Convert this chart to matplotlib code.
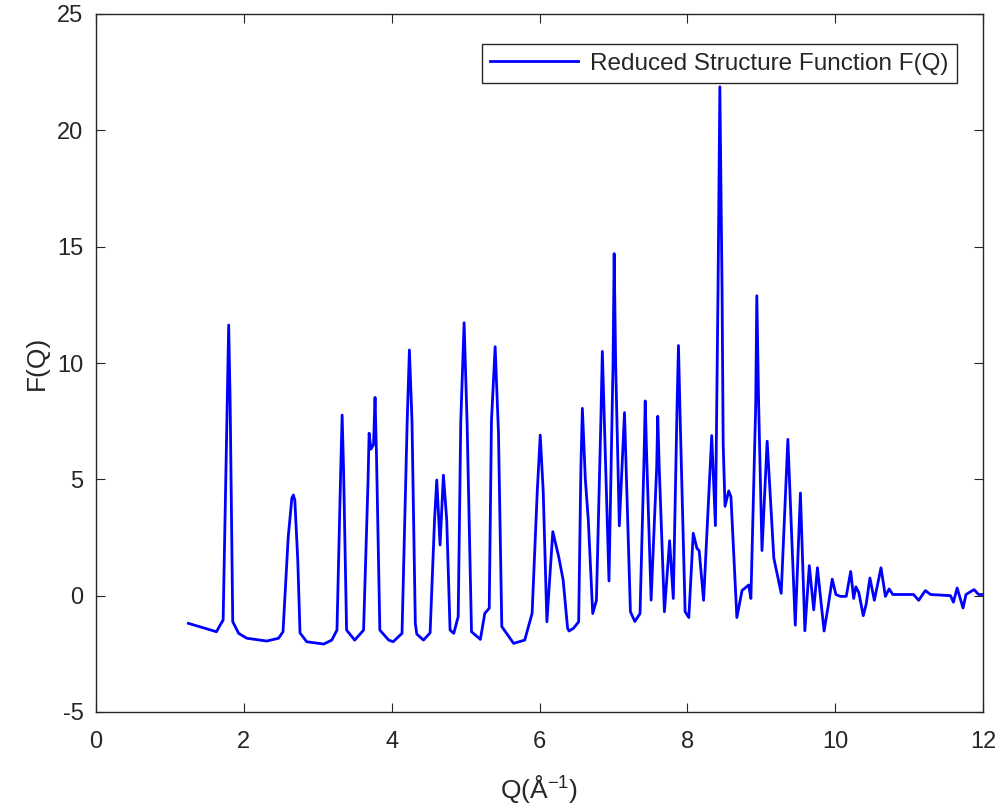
import matplotlib
matplotlib.use('Agg')
import matplotlib.pyplot as plt

plt.rcParams['font.family'] = ['Liberation Sans', 'DejaVu Sans']
plt.rcParams['mathtext.fontset'] = 'custom'
plt.rcParams['mathtext.rm'] = 'Liberation Sans'
plt.rcParams['mathtext.it'] = 'Liberation Sans'
plt.rcParams['axes.unicode_minus'] = False

# values (Q in 1/A, F(Q))
q = [1.25, 1.63, 1.68, 1.72, 1.775, 1.795, 1.815, 1.85, 1.93, 2.04, 2.31, 2.47,
     2.53, 2.60, 2.65, 2.67, 2.69, 2.73, 2.76, 2.85, 3.08, 3.19,
     3.26, 3.31, 3.33, 3.35, 3.39, 3.50, 3.62, 3.68, 3.695, 3.72, 3.755, 3.775, 3.795,
     3.84, 3.96, 4.02, 4.14, 4.21, 4.24, 4.275, 4.32, 4.34, 4.43,
     4.52, 4.58, 4.61, 4.655, 4.70, 4.745, 4.79, 4.84,
     4.90, 4.935, 4.98, 5.02, 5.08, 5.20, 5.26,
     5.32, 5.35, 5.40, 5.445, 5.49, 5.65, 5.80,
     5.90, 5.97, 6.01, 6.05, 6.10, 6.18, 6.26, 6.32, 6.38, 6.40, 6.46, 6.53,
     6.56, 6.58, 6.62, 6.66, 6.72, 6.77, 6.83, 6.85, 6.94, 6.995, 7.01, 7.03, 7.08, 7.15,
     7.23, 7.29, 7.36, 7.415, 7.43, 7.45, 7.51, 7.585, 7.60, 7.62, 7.69, 7.76, 7.81,
     7.86, 7.88, 7.90, 7.97, 8.02, 8.08, 8.13, 8.16, 8.22, 8.33, 8.38,
     8.415, 8.44, 8.47, 8.485, 8.51, 8.56, 8.59,
     8.67, 8.74, 8.83, 8.86, 8.925, 8.94, 8.965, 9.01, 9.08, 9.17, 9.27, 9.36,
     9.46, 9.53, 9.59, 9.65, 9.71, 9.76, 9.85, 9.91, 9.96, 10.01, 10.07,
     10.15, 10.21, 10.25, 10.28, 10.32, 10.38, 10.42, 10.47, 10.53, 10.62, 10.68,
     10.73, 10.78, 11.06, 11.13, 11.22, 11.29, 11.56, 11.60, 11.65, 11.73, 11.77,
     11.81, 11.88, 11.94, 12.0]
fq = [-1.19, -1.55, -1.26, -1.05, 8.3, 11.63, 8.3, -1.12, -1.62, -1.83, -1.95, -1.83,
      -1.55, 2.5, 4.2, 4.33, 4.1, 1.5, -1.6, -1.98, -2.08, -1.91,
      -1.48, 5.3, 7.76, 5.3, -1.48, -1.91, -1.48, 4.9, 6.98, 6.3, 6.5, 8.52, 6.0,
      -1.48, -1.91, -1.98, -1.62, 7.5, 10.56, 7.5, -1.2, -1.65, -1.91,
      -1.6, 3.25, 4.97, 2.18, 5.18, 3.25, -1.48, -1.62,
      -0.9, 7.5, 11.73, 7.5, -1.55, -1.88, -0.76,
      -0.54, 7.5, 10.70, 7.0, -1.33, -2.05, -1.91,
      -0.76, 4.5, 6.9, 4.5, -1.12, 2.75, 1.67, 0.67, -1.4, -1.52, -1.4, -1.12,
      5.5, 8.05, 5.0, 3.26, -0.77, -0.2, 7.5, 10.5, 0.63, 10.0, 14.7, 10.0, 3.0, 7.87,
      -0.69, -1.11, -0.77, 6.0, 8.37, 6.0, -0.19, 5.5, 7.71, 5.5, -0.69, 2.36, -0.12,
      8.0, 10.75, 8.0, -0.69, -0.94, 2.68, 2.03, 1.94, -0.2, 6.88, 3.01,
      13.1, 21.87, 13.1, 6.5, 3.84, 4.50, 4.25,
      -0.94, 0.22, 0.46, -0.12, 8.2, 12.89, 8.2, 1.94, 6.64, 1.62, 0.1, 6.72,
      -1.27, 4.41, -1.51, 1.29, -0.61, 1.20, -1.52, -0.36, 0.71, 0.05, -0.03,
      -0.03, 1.04, -0.12, 0.38, 0.13, -0.86, -0.36, 0.76, -0.20, 1.20, -0.03,
      0.29, 0.05, 0.05, -0.20, 0.22, 0.05, 0.0, -0.28, 0.33, -0.53, 0.05,
      0.13, 0.26, 0.05, 0.05]

xticks = [0, 2, 4, 6, 8, 10, 12]
yticks = [-5, 0, 5, 10, 15, 20, 25]

axcol = (0.15, 0.15, 0.15)

fig = plt.figure(figsize=(10.02, 8.07), dpi=100)
ax = fig.add_axes([96/1002, 95/807, 887/1002, 698/807])

ax.plot(q, fq, color=(0, 0, 1), lw=2.0, label='Reduced Structure Function F(Q)')

ax.set_xlim(0, 12)
ax.set_ylim(-5, 25)
ax.set_xticks(xticks)
ax.set_yticks(yticks)
ax.tick_params(direction='in', length=6.5, width=0.8, colors=axcol,
               labelsize=17, top=True, right=True)
ax.tick_params(axis='x', pad=14)
ax.tick_params(axis='y', pad=9)
for s in ax.spines.values():
    s.set_color(axcol)
    s.set_linewidth(1.0)

ax.set_xlabel('Q(Å$^{-1}$)', fontsize=19, color=axcol, labelpad=14)
ax.set_ylabel('F(Q)', fontsize=19, color=axcol, labelpad=6)

leg = ax.legend(loc='upper right', bbox_to_anchor=(957/1002, (807-44)/807),
                bbox_transform=fig.transFigure, borderaxespad=0, fontsize=17.5,
                fancybox=False, framealpha=1, edgecolor=axcol, handlelength=3.6,
                borderpad=0.35, handletextpad=0.5)
leg.get_frame().set_linewidth(1.0)
for t in leg.get_texts():
    t.set_color(axcol)

fig.savefig('out.png', dpi=100)
